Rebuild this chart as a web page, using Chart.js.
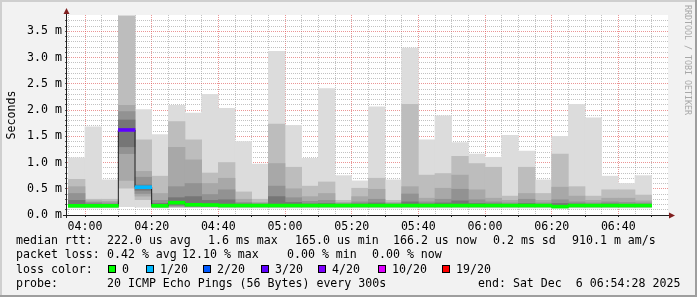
<!DOCTYPE html>
<html>
<head>
<meta charset="utf-8">
<script src="https://cdn.jsdelivr.net/npm/chart.js@4.4.1/dist/chart.umd.min.js"></script>
<style>
html, body { margin: 0; padding: 0; background: #f2f2f2; }
#wrap { position: relative; width: 697px; height: 297px; overflow: hidden; }
#chart { position: absolute; left: 0; top: 0; }
.t { position: absolute; font-family: 'DejaVu Sans Mono', monospace; font-size: 11.6px; line-height: 14px; white-space: pre; color: #000; }
.sw { position: absolute; top: 265px; width: 6px; height: 6px; border: 1px solid #000; }
#mark { position: absolute; left: 683px; top: 5px; writing-mode: vertical-rl; font-family: 'DejaVu Sans Mono', monospace; font-size: 8.3px; line-height: 10px; color: #a8a8a8; white-space: pre; }
</style>
</head>
<body>
<div id="wrap">
  <canvas id="chart" width="697" height="297"></canvas>
  <div id="legend"></div>
  <div id="mark">RRDTOOL / TOBI OETIKER</div>
</div>
<script>
// 5 minute slots (start time)
const times = ['03:55','04:00','04:05','04:10','04:15','04:20','04:25','04:30','04:35','04:40',
  '04:45','04:50','04:55','05:00','05:05','05:10','05:15','05:20','05:25','05:30',
  '05:35','05:40','05:45','05:50','05:55','06:00','06:05','06:10','06:15','06:20',
  '06:25','06:30','06:35','06:40','06:45'];

// smoke: sorted ping rtt bands, ms
const pingMax = [1.09,1.68,0.67,3.80,2.01,1.53,2.09,1.94,2.30,2.03,1.40,0.97,3.12,1.71,1.08,2.41,0.75,0.65,2.06,0.67,3.18,1.43,1.89,1.38,1.16,1.10,1.52,1.22,0.67,1.50,2.11,1.85,0.74,0.60,0.75];
const pingHi1 = [0.68,0.30,0.30,3.79,1.43,0.74,1.78,1.43,0.80,1.00,0.44,0.30,1.73,0.91,0.55,0.63,0.28,0.51,0.70,0.28,2.11,0.76,0.79,1.12,0.98,0.91,0.36,0.91,0.41,1.16,0.54,0.36,0.48,0.48,0.38];
const pingHi2 = [0.54,0.27,0.26,2.09,0.83,0.41,1.29,1.05,0.60,0.70,0.30,0.24,0.98,0.50,0.35,0.41,0.24,0.35,0.49,0.24,0.54,0.32,0.51,0.76,0.48,0.32,0.28,0.41,0.28,0.53,0.36,0.28,0.32,0.32,0.27];
const pingHi3 = [0.41,0.24,0.23,1.97,0.72,0.28,0.54,0.60,0.39,0.48,0.24,0.22,0.55,0.33,0.26,0.28,0.22,0.25,0.30,0.22,0.40,0.25,0.30,0.49,0.29,0.25,0.23,0.30,0.23,0.29,0.25,0.23,0.25,0.24,0.23];
const pingHi4 = [0.28,0.21,0.20,1.81,0.57,0.22,0.33,0.35,0.28,0.29,0.21,0.20,0.35,0.24,0.21,0.22,0.20,0.21,0.23,0.20,0.25,0.21,0.23,0.27,0.22,0.21,0.20,0.22,0.20,0.22,0.21,0.20,0.21,0.20,0.20];
const median  = [0.175,0.175,0.175,1.62,0.53,0.175,0.235,0.195,0.19,0.18,0.18,0.18,0.18,0.18,0.18,0.18,0.18,0.18,0.18,0.18,0.18,0.18,0.18,0.18,0.18,0.18,0.18,0.18,0.18,0.16,0.18,0.18,0.18,0.18,0.18];
const pingLo4 = [0.165,0.165,0.165,1.30,0.47,0.165,0.19,0.17,0.17,0.165,0.165,0.165,0.165,0.165,0.165,0.165,0.165,0.165,0.165,0.165,0.165,0.165,0.165,0.165,0.165,0.165,0.165,0.165,0.165,0.15,0.165,0.165,0.165,0.165,0.165];
const pingLo3 = [0.16,0.16,0.16,1.17,0.41,0.16,0.17,0.165,0.165,0.16,0.16,0.16,0.16,0.16,0.16,0.16,0.16,0.16,0.16,0.16,0.16,0.16,0.16,0.16,0.16,0.16,0.16,0.16,0.16,0.148,0.16,0.16,0.16,0.16,0.16];
const pingLo2 = [0.155,0.155,0.155,0.66,0.36,0.155,0.16,0.16,0.16,0.155,0.155,0.155,0.155,0.155,0.155,0.155,0.155,0.155,0.155,0.155,0.155,0.155,0.155,0.155,0.155,0.155,0.155,0.155,0.155,0.145,0.155,0.155,0.155,0.155,0.155];
const pingLo1 = [0.15,0.15,0.15,0.51,0.29,0.15,0.15,0.15,0.15,0.15,0.15,0.15,0.15,0.15,0.15,0.15,0.15,0.15,0.15,0.15,0.15,0.15,0.15,0.15,0.15,0.15,0.15,0.15,0.15,0.14,0.15,0.15,0.15,0.15,0.15];
const pingMin = [0.135,0.135,0.135,0.16,0.15,0.135,0.14,0.14,0.14,0.135,0.135,0.135,0.135,0.135,0.135,0.135,0.135,0.135,0.135,0.135,0.135,0.135,0.135,0.135,0.135,0.135,0.135,0.135,0.135,0.13,0.135,0.135,0.135,0.135,0.135];
// lost pings out of 20
const loss = [0,0,0,3,1,0,0,0,0,0,0,0,0,0,0,0,0,0,0,0,0,0,0,0,0,0,0,0,0,0,0,0,0,0,0];

const lossSteps  = [0, 1, 2, 3, 4, 10, 19];
const lossLabels = ['0', '1/20', '2/20', '3/20', '4/20', '10/20', '19/20'];
const lossColors = ['#00ff00', '#00b8ff', '#0059ff', '#5e00ff', '#7e00ff', '#dd00ff', '#ff0000'];

const FONT = { family: "'DejaVu Sans Mono', monospace", size: 11.6 };
const MINOR = 'rgba(143,143,143,0.55)';
const MAJOR = 'rgba(222,79,79,0.6)';

function toMin(t) { const p = t.split(':'); return (+p[0]) * 60 + (+p[1]); }
function fmtTime(v) {
  const h = Math.floor(v / 60), m = Math.round(v % 60);
  return String(h).padStart(2, '0') + ':' + String(m).padStart(2, '0');
}
function lossColor(n) {
  let c = lossColors[0];
  for (let i = 0; i < lossSteps.length; i++) if (n >= lossSteps[i]) c = lossColors[i];
  return c;
}
function isHalf(v) { return Math.abs(v * 2 - Math.round(v * 2)) < 1e-6; }

const centers = times.map(t => toMin(t) + 2.5);
function band(lo, hi) { return centers.map((x, i) => ({ x: x, y: [lo[i], hi[i]] })); }

function smoke(label, lo, hi, color, order) {
  return { label: label, data: band(lo, hi), backgroundColor: color, grouped: false,
    barPercentage: 1, categoryPercentage: 1, borderWidth: 0, order: order };
}

const rrdFrame = {
  id: 'rrdFrame',
  beforeDraw(chart) {
    const c = chart.ctx, a = chart.chartArea;
    c.save();
    c.fillStyle = '#f2f2f2';
    c.fillRect(0, 0, chart.width, chart.height);
    c.fillStyle = '#ffffff';
    c.fillRect(a.left, a.top, a.right - a.left, a.bottom - a.top);
    c.restore();
  },
  afterDraw(chart) {
    const c = chart.ctx, a = chart.chartArea;
    c.save();
    c.strokeStyle = '#1f1f1f';
    c.lineWidth = 1;
    c.beginPath();
    c.moveTo(a.left - 4, a.bottom + 0.5); c.lineTo(a.right + 2, a.bottom + 0.5);
    c.moveTo(a.left - 0.5, a.bottom + 3); c.lineTo(a.left - 0.5, a.top - 2);
    c.stroke();
    c.fillStyle = '#801f1f';
    c.beginPath();
    c.moveTo(a.right + 7, a.bottom + 0.5); c.lineTo(a.right + 1, a.bottom - 2.5); c.lineTo(a.right + 1, a.bottom + 3.5);
    c.closePath(); c.fill();
    c.beginPath();
    c.moveTo(a.left - 0.5, a.top - 7); c.lineTo(a.left - 3.5, a.top - 1); c.lineTo(a.left + 2.5, a.top - 1);
    c.closePath(); c.fill();
    c.fillStyle = '#cfcfcf';
    c.fillRect(0, 0, chart.width, 2);
    c.fillRect(0, 0, 2, chart.height);
    c.fillStyle = '#9e9e9e';
    c.fillRect(chart.width - 2, 0, 2, chart.height);
    c.fillRect(0, chart.height - 2, chart.width, 2);
    c.restore();
  }
};

new Chart(document.getElementById('chart'), {
  type: 'bar',
  data: {
    datasets: [
      { label: 'median loss', data: centers.map((x, i) => ({ x: x, y: [median[i] - 0.028, median[i] + 0.028] })),
        backgroundColor: loss.map(lossColor), grouped: false, barPercentage: 1, categoryPercentage: 1,
        borderWidth: 0, order: 0 },
      { type: 'line', label: 'median', data: centers.map((x, i) => ({ x: x, y: median[i] })),
        stepped: 'middle', borderColor: '#202020', borderWidth: 1, pointRadius: 0, fill: false, order: 1 },
      smoke('smoke 5', pingLo4, pingHi4, '#767676', 2),
      smoke('smoke 4', pingLo3, pingHi3, '#929292', 3),
      smoke('smoke 3', pingLo2, pingHi2, '#a8a8a8', 4),
      smoke('smoke 2', pingLo1, pingHi1, '#bdbdbd', 5),
      smoke('smoke 1', pingMin, pingMax, '#dcdcdc', 6)
    ]
  },
  options: {
    responsive: false,
    animation: false,
    devicePixelRatio: 1,
    layout: { padding: { top: 15, right: 29, left: 0, bottom: 0 } },
    plugins: { legend: { display: false }, tooltip: { enabled: false } },
    scales: {
      x: {
        type: 'linear', min: 234.6, max: 414.9, offset: false, z: 1,
        grid: { offset: false, lineWidth: 1, tickLength: 2,
          color: c => (c.tick && c.tick.value % 20 === 0) ? MAJOR : MINOR,
          tickColor: c => (c.tick && c.tick.value % 10 === 0) ? '#1f1f1f' : 'rgba(0,0,0,0)' },
        border: { display: false, dash: [1, 1] },
        ticks: { stepSize: 5, includeBounds: false, autoSkip: false, maxRotation: 0, minRotation: 0,
          padding: 3, color: '#000', font: FONT,
          callback: v => (v % 20 === 0) ? fmtTime(v) : '' },
        afterBuildTicks: s => { s.ticks = s.ticks.filter(t => Math.abs(t.value / 5 - Math.round(t.value / 5)) < 1e-6); },
        afterFit: s => { s.height = 82; }
      },
      y: {
        min: 0, max: 3.81, z: 1,
        grid: { lineWidth: 1, tickLength: 2, tickColor: '#555',
          color: c => (c.tick && isHalf(c.tick.value)) ? MAJOR : MINOR },
        border: { display: false, dash: [1, 1] },
        ticks: { stepSize: 0.1, includeBounds: false, autoSkip: false, padding: 3, color: '#000', font: FONT,
          callback: v => isHalf(v) ? v.toFixed(1) + ' m' : '' },
        afterBuildTicks: s => { s.ticks = s.ticks.filter(t => t.value <= 3.75); },
        afterFit: s => { s.width = 67; },
        title: { display: true, text: 'Seconds', color: '#000', font: FONT, padding: { top: 5, bottom: 0 } }
      }
    }
  },
  plugins: [rrdFrame]
});

// legend lines below the graph
const legendLines = [
  { top: 233, items: [[16, 'median rtt:'], [107, '222.0 us avg'], [208, '1.6 ms max'], [295, '165.0 us min'],
    [393, '166.2 us now'], [493, '0.2 ms sd'], [572, '910.1 m am/s']] },
  { top: 247, items: [[16, 'packet loss:'], [107, '0.42 % avg'], [182, '12.10 % max'], [287, '0.00 % min'], [372, '0.00 % now']] },
  { top: 262, items: [[16, 'loss color:']] },
  { top: 276, items: [[16, 'probe:'], [107, '20 ICMP Echo Pings (56 Bytes) every 300s'], [478, 'end: Sat Dec  6 06:54:28 2025']] }
];
const swatchX = [108, 146, 203, 261, 318, 378, 442];

const legend = document.getElementById('legend');
legendLines.forEach(line => {
  line.items.forEach(it => {
    const s = document.createElement('div');
    s.className = 't';
    s.style.left = it[0] + 'px';
    s.style.top = line.top + 'px';
    s.textContent = it[1];
    legend.appendChild(s);
  });
});
lossLabels.forEach((lab, i) => {
  const b = document.createElement('div');
  b.className = 'sw';
  b.style.left = swatchX[i] + 'px';
  b.style.background = lossColors[i];
  legend.appendChild(b);
  const s = document.createElement('div');
  s.className = 't';
  s.style.left = (swatchX[i] + 14) + 'px';
  s.style.top = '262px';
  s.textContent = lab;
  legend.appendChild(s);
});
</script>
</body>
</html>
